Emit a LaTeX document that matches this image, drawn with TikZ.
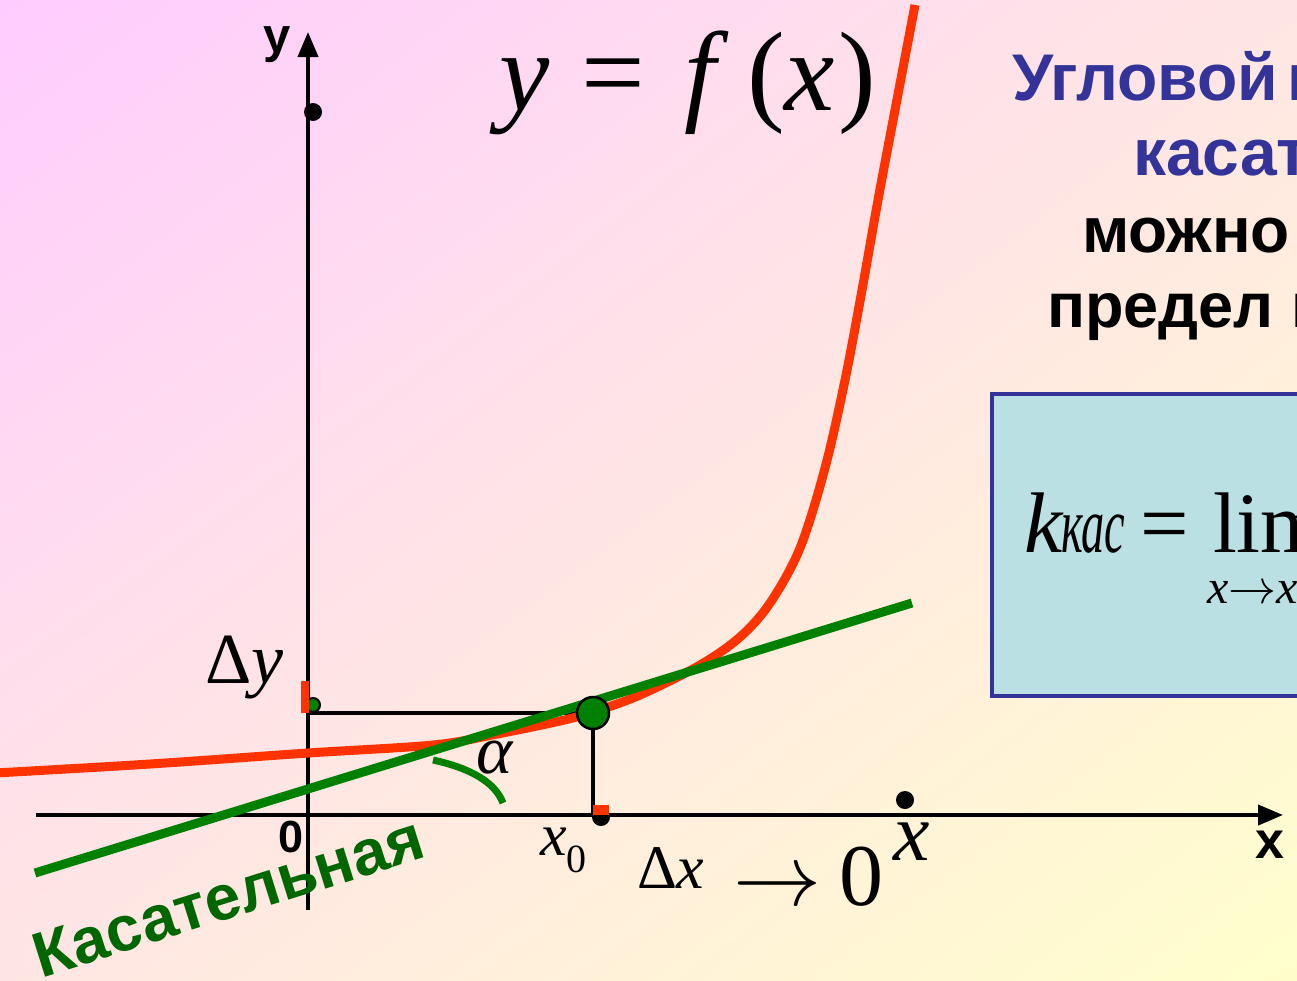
\RequirePackage{fix-cm}
\documentclass[tikz,border=0pt]{standalone}
\usepackage{fontspec}
\setmainfont{Liberation Serif}
\setsansfont{Liberation Sans}
\usetikzlibrary{arrows.meta,shadings}
\definecolor{bgpink}{RGB}{255,204,255}
\definecolor{bgyellow}{RGB}{255,255,204}
\definecolor{bgmid}{RGB}{255,230,228}
\definecolor{curvered}{RGB}{255,51,0}
\definecolor{tangreen}{RGB}{0,128,0}
\definecolor{txtgreen}{RGB}{0,102,0}
\definecolor{navy}{RGB}{51,51,153}
\definecolor{boxfill}{RGB}{187,224,227}
\newcommand{\fsz}[1]{\fontsize{#1}{#1}\selectfont}
\begin{document}
\begin{tikzpicture}[x=1pt,y=-1pt,
  lbl/.style={inner sep=0pt, outer sep=0pt, anchor=base west},
  axisline/.style={line width=4pt, -{Triangle[length=25pt,width=20pt]}},
  thinline/.style={line width=3.5pt},
  redcurve/.style={line width=9pt, draw=curvered},
  tangline/.style={line width=9pt, draw=tangreen},
  blackdot/.style={fill=black},
  redmark/.style={fill=curvered},
  axlabel/.style={lbl, font=\sffamily\bfseries},
  rtext/.style={lbl, font=\sffamily\bfseries}]
\useasboundingbox (0,0) rectangle (1297,980);
\clip (0,0) rectangle (1297,980);
\shade[upper left=bgpink, lower right=bgyellow, upper right=bgmid, lower left=bgmid] (0,0) rectangle (1297,980);

% formula box
\node[draw=navy, line width=4pt, fill=boxfill, minimum width=400pt, minimum height=302pt, anchor=north west, inner sep=0pt] (box) at (990,392) {};
\node[lbl] (k) at (1024,552) {\fsz{86}\textit{k}};
\node[lbl] (kas) at (1061,552) {\scalebox{0.58}[1]{\fsz{80}\textit{кас}}};
\node[lbl] (eq) at (1140,552) {\fsz{86}=};
\node[lbl] (lim) at (1213,552) {\fsz{86}lim};
\node[lbl] (limsub) at (1207,603) {\fsz{48}\textit{x}$\rightarrow$\textit{x}\raisebox{-8pt}{\fsz{32}0}};

% right text
\node[rtext, text=navy] (t1) at (1012,100) {\fsz{66}Угловой\hspace{9pt}коэффициент};
\node[rtext, text=navy] (t2) at (1133,175) {\fsz{66}касательной};
\node[rtext] (t3) at (1082,252) {\fsz{64}можно найти};
\node[rtext] (t4) at (1047,327) {\fsz{63}предел наклона};

% coordinates
\coordinate (ybot) at (308,910);
\coordinate (ytop) at (308,32);
\coordinate (xleft) at (36,815);
\coordinate (xright) at (1283,815);
\coordinate (P) at (593,713);
\coordinate (Py) at (308,713);
\coordinate (Px) at (593,815);
\coordinate (T1) at (35,873);
\coordinate (T2) at (912,603);

% axes
\draw[axisline] (ybot) -- (ytop);
\draw[axisline] (xleft) -- (xright);

% helper lines
\draw[thinline] (Py) -- (P) -- (Px);

% curve
\draw[redcurve, line join=round] plot[smooth, tension=0.55] coordinates {(-5,773) (150,764) (308,753) (433,745) (497,734) (560,721) (593,712) (640,695) (700,665) (740,637) (770,603) (800,548) (825,468) (845,380) (862,290) (878,200) (895,110) (915,5)};

% tangent
\draw[tangline] (T1) -- (T2);

% angle arc
\draw[line width=7pt, draw=tangreen] (433,760) .. controls (470,768) and (495,782) .. (503,803);

% dots
\fill[blackdot] (313,112) circle (9);
\fill[blackdot] (905,800) circle (9);
\fill[blackdot] (601,817) circle (9);
\fill[redmark] (593,805) rectangle (609,815);
\draw[fill=tangreen, line width=2pt] (313,705) circle (7);
\fill[redmark] (301,681) rectangle (309,713);
\draw[fill=tangreen, line width=2.5pt] (P) circle (16);

% labels
\node[axlabel] (ylab) at (263,52) {\fsz{49}y};
\node[axlabel] (xlab) at (1255,858) {\fsz{52}x};
\node[axlabel] (zero) at (278,852) {\fsz{45}0};
\node[lbl] (fx) at (499,110) {\fsz{113}\textit{y}\hspace{32pt}=\hspace{40pt}\textit{f}\hspace{18pt}(\textit{x}\hspace{3pt})};
\node[lbl] (dy) at (205,683) {\fsz{72}Δ\textit{y}};
\node[lbl] (x0) at (540,855) {\fsz{60}\textit{x}\raisebox{-17pt}{\fsz{40}0}};
\node[lbl] (dx) at (637,888) {\fsz{62}Δ\textit{x}};
\node[lbl] (arr) at (733,905) {\fsz{88}$\rightarrow$};
\node[lbl] (zerolim) at (839,905) {\fsz{88}0};
\node[lbl] (xpt) at (893,860) {\fsz{82}\textit{x}};
\node[lbl] (alpha) at (476,773) {\fsz{69}\textit{α}};
\node[lbl, text=txtgreen, font=\sffamily\bfseries, rotate=17.4] (kas2) at (41,978) {\fsz{64}Касательная};
\end{tikzpicture}
\end{document}
